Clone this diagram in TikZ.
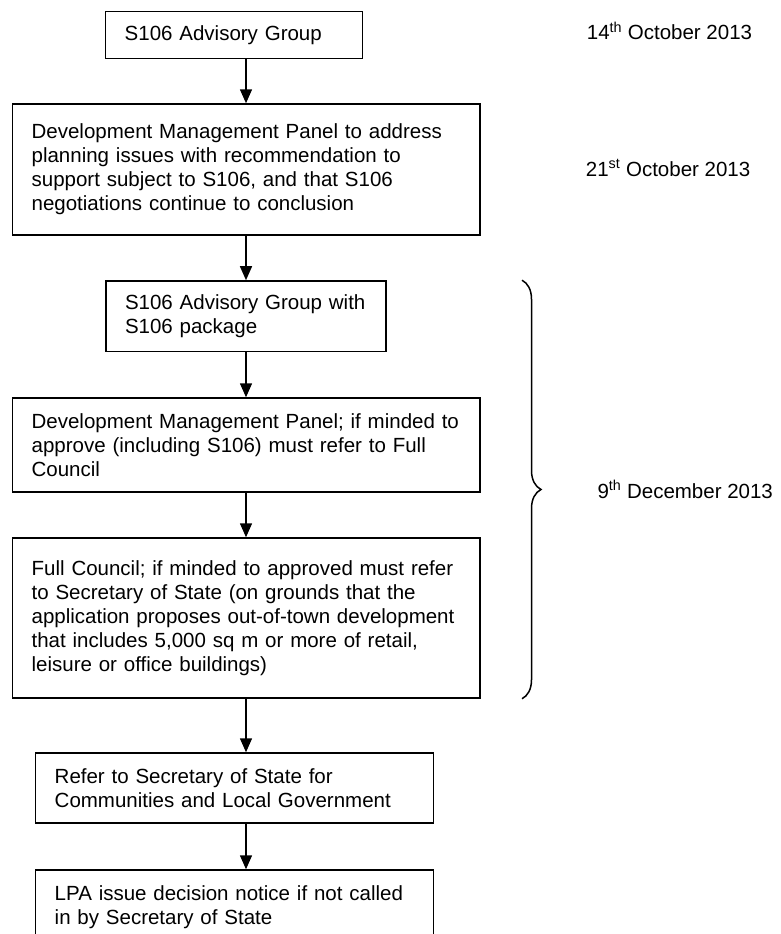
\documentclass[tikz,border=0pt]{standalone}
\usepackage{fontspec}
\setmainfont{Liberation Sans}
\usetikzlibrary{arrows.meta}
\usetikzlibrary{decorations.pathreplacing}

\tikzset{
  stage/.style={rectangle, draw, line width=1.5pt, align=left, inner xsep=19pt, inner ysep=0pt},
  flow/.style={line width=1.5pt, -{Triangle[length=14pt, width=12pt]}},
  bracket/.style={line width=1.5pt, decorate, decoration={brace, amplitude=19pt}},
  date/.style={anchor=base west, inner sep=0pt}
}

\begin{document}
\begin{tikzpicture}[x=1pt, y=-1pt, font=\fontsize{20.5}{24}\selectfont]
      \useasboundingbox (0,0) rectangle (781,934);
      \coordinate (ax) at (246,0);
      \coordinate (bx) at (522,0);

      \node[stage, text width=219pt, minimum height=47pt] (1) at (234.2,34.8) {S106 Advisory Group};
      \node[stage, text width=429.3pt, minimum height=131pt] (2) at (246.3,169.5) {Development Management Panel to address\\planning issues with recommendation to\\support subject to S106, and that S106\\negotiations continue to conclusion};
      \node[stage, text width=242pt, minimum height=70.7pt] (3) at (246,316.3) {S106 Advisory Group with\\S106 package};
      \node[stage, text width=429.3pt, minimum height=94pt] (4) at (246.3,445) {Development Management Panel; if minded to\\approve (including S106) must refer to Full\\Council};
      \node[stage, text width=429.3pt, minimum height=160pt] (5) at (246.3,618) {Full Council; if minded to approved must refer\\to Secretary of State (on grounds that the\\application proposes out-of-town development\\that includes 5,000 sq m or more of retail,\\leisure or office buildings)};
      \node[stage, text width=359.6pt, minimum height=70pt] (6) at (234.5,788) {Refer to Secretary of State for\\Communities and Local Government};
      \node[stage, text width=359.6pt, minimum height=75pt] (7) at (234.5,907.5) {LPA issue decision notice if not called\\in by Secretary of State};

      \node[date] (d1) at (586.7,40) {14\textsuperscript{th} October 2013};
      \node[date] (d2) at (585.7,176.5) {21\textsuperscript{st} October 2013};
      \node[date] (d3) at (597.3,498) {9\textsuperscript{th} December 2013};

      \draw[flow] (1.south -| ax) -- (2.north -| ax);
      \draw[flow] (2.south -| ax) -- (3.north -| ax);
      \draw[flow] (3.south -| ax) -- (4.north -| ax);
      \draw[flow] (4.south -| ax) -- (5.north -| ax);
      \draw[flow] (5.south -| ax) -- (6.north -| ax);
      \draw[flow] (6.south -| ax) -- (7.north -| ax);
      \draw[bracket] (3.north -| bx) -- (5.south -| bx);
    \end{tikzpicture}
\end{document}
